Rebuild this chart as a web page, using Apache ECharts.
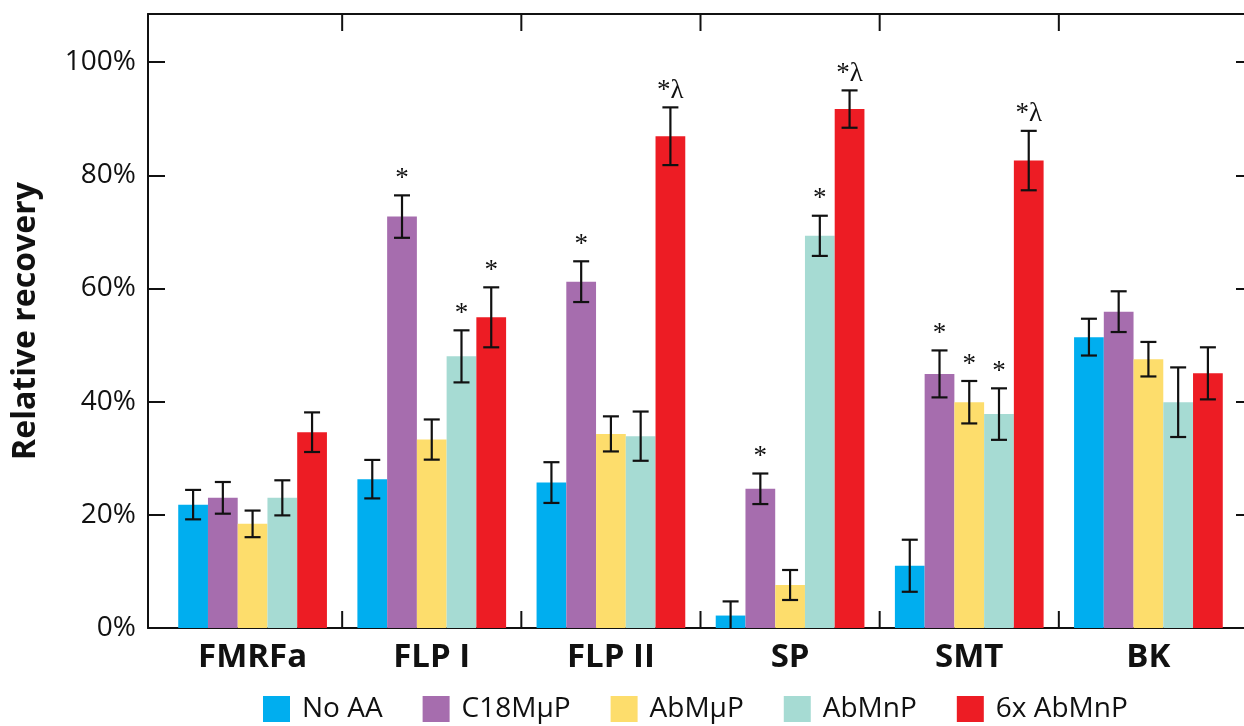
<!DOCTYPE html>
<html>
<head>
<meta charset="utf-8">
<script src="https://cdn.jsdelivr.net/npm/echarts@6/dist/echarts.min.js"></script>
<style>
  html, body { margin: 0; padding: 0; background: #fff; }
  #chart { width: 1244px; height: 726px; }
</style>
</head>
<body>
<div id="chart"></div>
<script>
// Peptides on the x axis
const categories = ['FMRFa', 'FLP I', 'FLP II', 'SP', 'SMT', 'BK'];

// Relative recovery (%) per enrichment method
const noAA     = [21.8, 26.3, 25.7,  2.2, 11.0, 51.4];
const c18MuP   = [23.0, 72.7, 61.2, 24.6, 44.9, 55.9];
const abMuP    = [18.4, 33.3, 34.3,  7.6, 39.9, 47.5];
const abMnP    = [23.0, 48.0, 33.9, 69.3, 37.8, 39.9];
const abMnP6x  = [34.6, 54.9, 86.9, 91.7, 82.6, 45.0];

// Error bar half-lengths (%)
const noAAErr    = [2.6, 3.4, 3.6, 2.5, 4.6, 3.25];
const c18MuPErr  = [2.8, 3.75, 3.6, 2.7, 4.15, 3.6];
const abMuPErr   = [2.35, 3.55, 3.1, 2.65, 3.75, 3.05];
const abMnPErr   = [3.1, 4.6, 4.35, 3.55, 4.55, 6.15];
const abMnP6xErr = [3.5, 5.3, 5.1, 3.3, 5.25, 4.6];

// Significance marks above the error bars
const noAAMarks    = ['', '', '', '', '', ''];
const c18MuPMarks  = ['', '*', '*', '*', '*', ''];
const abMuPMarks   = ['', '', '', '', '*', ''];
const abMnPMarks   = ['', '*', '', '*', '*', ''];
const abMnP6xMarks = ['', '*', '*λ', '*λ', '*λ', ''];

// Value axis tick labels
const yTicks = [0, 20, 40, 60, 80, 100];
const Y_MAX = 108.5;

const SANS = '"Open Sans", "Noto Sans", sans-serif';
const SERIF = '"Liberation Serif", "DejaVu Serif", serif';
const INK = '#111111';
const BAR_FRAC = 0.166;

const groups = [
  { name: 'No AA',    values: noAA,    errors: noAAErr,    marks: noAAMarks,    color: '#00aeef' },
  { name: 'C18MμP',   values: c18MuP,  errors: c18MuPErr,  marks: c18MuPMarks,  color: '#a66dae' },
  { name: 'AbMμP',    values: abMuP,   errors: abMuPErr,   marks: abMuPMarks,   color: '#fddd6c' },
  { name: 'AbMnP',    values: abMnP,   errors: abMnPErr,   marks: abMnPMarks,   color: '#a6dbd3' },
  { name: '6x AbMnP', values: abMnP6x, errors: abMnP6xErr, marks: abMnP6xMarks, color: '#ed1c24' }
];

// [category index, value, error, group index]
const errData = [];
groups.forEach((g, k) => g.values.forEach((v, i) => errData.push([i, v, g.errors[i], k])));

// group boundaries between neighbouring categories
const boundaries = categories.slice(1).map((_, i) => [i + 1, 0]);

const axisLineStyle = { color: INK, width: 2 };

const frameX = (pos) => ({
  gridIndex: 0, type: 'value', min: 0, max: 1, position: pos,
  axisLine: { show: true, onZero: false, lineStyle: axisLineStyle },
  axisTick: { show: false }, axisLabel: { show: false }, splitLine: { show: false }
});

const option = {
  animation: false,
  backgroundColor: '#ffffff',
  grid: [
    { left: 148, right: -9, top: 14, bottom: 98, containLabel: false, outerBoundsMode: 'none' },
    { left: 163, right: 6, top: 14, bottom: 98, containLabel: false, outerBoundsMode: 'none' }
  ],
  legend: {
    data: groups.map(g => g.name),
    left: 263, top: 695, padding: 0,
    icon: 'rect', itemWidth: 27, itemHeight: 26, itemGap: 40,
    textStyle: { fontFamily: SANS, fontSize: 28, color: INK, padding: [0, 0, 0, 7] }
  },
  xAxis: [
    frameX('bottom'),
    frameX('top'),
    {
      gridIndex: 1, type: 'category', data: categories,
      axisLine: { show: false }, axisTick: { show: false }, splitLine: { show: false },
      axisLabel: { fontFamily: SANS, fontSize: 33, fontWeight: 'bold', color: INK, margin: 13 }
    }
  ],
  yAxis: [
    {
      gridIndex: 0, type: 'value', min: 0, max: Y_MAX, interval: 20, position: 'left',
      axisLine: { show: true, onZero: false, lineStyle: axisLineStyle },
      axisTick: { show: true, inside: true, length: 17, lineStyle: axisLineStyle },
      axisLabel: {
        formatter: v => (yTicks.indexOf(v) >= 0 ? v + '%' : ''),
        fontFamily: SANS, fontSize: 28, color: INK, margin: 12
      },
      splitLine: { show: false },
      name: 'Relative recovery', nameLocation: 'middle', nameRotate: 90, nameGap: 106,
      nameTextStyle: { fontFamily: SANS, fontSize: 32, fontWeight: 'bold', color: INK }
    },
    {
      gridIndex: 0, type: 'value', min: 0, max: Y_MAX, interval: 20, position: 'right',
      axisLine: { show: true, onZero: false, lineStyle: axisLineStyle },
      axisTick: { show: true, inside: true, length: 17, lineStyle: axisLineStyle },
      axisLabel: { show: false }, splitLine: { show: false }
    },
    { gridIndex: 1, type: 'value', min: 0, max: Y_MAX, show: false }
  ],
  series: [
    ...groups.map(g => ({
      name: g.name, type: 'bar', xAxisIndex: 2, yAxisIndex: 2,
      data: g.values, barWidth: (BAR_FRAC * 100) + '%', barGap: '0%',
      itemStyle: { color: g.color }
    })),
    {
      // error bars and significance marks
      type: 'custom', xAxisIndex: 2, yAxisIndex: 2, clip: true, z: 5,
      data: errData,
      renderItem(params, api) {
        const cat = api.value(0), v = api.value(1), e = api.value(2), k = api.value(3);
        const band = api.size([1, 0])[0];
        const dx = (k - (groups.length - 1) / 2) * band * BAR_FRAC;
        const top = api.coord([cat, v + e]);
        const bot = api.coord([cat, v - e]);
        const x = top[0] + dx;
        const cap = 8;
        const style = { stroke: INK, lineWidth: 2.2 };
        const children = [
          { type: 'line', shape: { x1: x, y1: top[1], x2: x, y2: bot[1] }, style },
          { type: 'line', shape: { x1: x - cap, y1: top[1], x2: x + cap, y2: top[1] }, style },
          { type: 'line', shape: { x1: x - cap, y1: bot[1], x2: x + cap, y2: bot[1] }, style }
        ];
        const mark = groups[k].marks[cat];
        if (mark) {
          children.push({
            type: 'text',
            style: {
              text: mark, x: x, y: top[1] - 3, align: 'center', verticalAlign: 'bottom',
              font: '27px ' + SERIF, fill: INK
            }
          });
        }
        return { type: 'group', children };
      }
    },
    {
      // short separators between peptide groups on the bottom and top frame
      type: 'custom', xAxisIndex: 2, yAxisIndex: 2, z: 6,
      data: boundaries,
      renderItem(params, api) {
        const i = api.value(0);
        const a = api.coord([i - 1, 0]);
        const b = api.coord([i, 0]);
        const x = (a[0] + b[0]) / 2;
        const cs = params.coordSys;
        const yb = cs.y + cs.height;
        const style = { stroke: INK, lineWidth: 2 };
        return {
          type: 'group',
          children: [
            { type: 'line', shape: { x1: x, y1: yb, x2: x, y2: yb - 17 }, style },
            { type: 'line', shape: { x1: x, y1: cs.y, x2: x, y2: cs.y + 17 }, style }
          ]
        };
      }
    }
  ]
};

const chart = echarts.init(document.getElementById('chart'));
chart.setOption(option);
</script>
</body>
</html>
